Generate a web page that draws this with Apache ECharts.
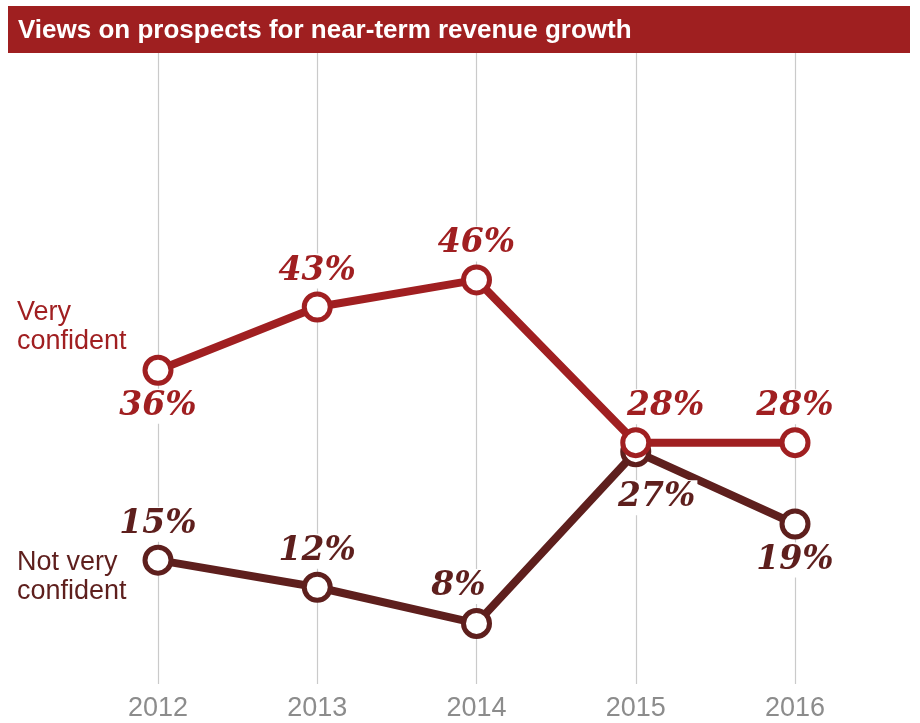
<!DOCTYPE html>
<html>
<head>
<meta charset="utf-8">
<script src="https://cdn.jsdelivr.net/npm/echarts@6/dist/echarts.min.js"></script>
<style>
  html, body { margin: 0; padding: 0; background: #fff; }
  #chart { width: 920px; height: 723px; }
</style>
</head>
<body>
<div id="chart"></div>
<script>
// Survey years and the share of respondents in each group
const years = ['2012', '2013', '2014', '2015', '2016'];
const veryConfident = [36, 43, 46, 28, 28];
const notVeryConfident = [15, 12, 8, 27, 19];

// Where each value label sits relative to its point
const veryLabelPos = ['bottom', 'top', 'top', 'top', 'top'];
const veryLabelOffset = [[0, 0], [0, 0], [0, 0], [30, 0], [0, 0]];
const notLabelPos = ['top', 'top', 'top', 'bottom', 'bottom'];
const notLabelOffset = [[0, 0], [0, 0], [-18, -1], [21, 10], [0, 0]];

const RED = '#a01f21';
const DARK = '#5e1f1d';

function buildData(values, positions, offsets) {
  return values.map((v, i) => ({
    value: v,
    label: {
      position: positions[i],
      offset: offsets[i]
    }
  }));
}

function lineSeries(name, values, positions, offsets, color, z) {
  return {
    name: name,
    type: 'line',
    z: z,
    data: buildData(values, positions, offsets),
    symbol: 'circle',
    symbolSize: 26,
    showAllSymbol: true,
    lineStyle: { color: color, width: 8 },
    itemStyle: { color: '#fff', borderColor: color, borderWidth: 5 },
    label: {
      show: true,
      distance: 3,
      formatter: '{c}%',
      color: color,
      fontFamily: 'DejaVu Serif',
      fontStyle: 'italic',
      fontWeight: 'bold',
      fontSize: 33,
      lineHeight: 33,
      backgroundColor: '#fff',
      padding: [1, 2]
    },
    emphasis: { disabled: true },
    animation: false
  };
}

const chart = echarts.init(document.getElementById('chart'), null, { renderer: 'canvas' });

chart.setOption({
  backgroundColor: '#fff',
  animation: false,
  grid: { left: 158, right: 125, top: 53, bottom: 39 },
  xAxis: {
    type: 'category',
    data: years,
    boundaryGap: false,
    axisLine: { show: false },
    axisTick: { show: false },
    axisLabel: {
      color: '#8c8c8c',
      fontFamily: 'Liberation Sans',
      fontSize: 27,
      margin: 11
    },
    splitLine: { show: true, lineStyle: { color: '#cacaca', width: 1.2 } }
  },
  yAxis: {
    type: 'value',
    min: 1.3,
    max: 71.1,
    show: false,
    splitLine: { show: false }
  },
  graphic: [
    {
      type: 'rect',
      shape: { x: 8, y: 6, width: 902, height: 47 },
      style: { fill: '#9f1f20' },
      z: 0
    },
    {
      type: 'text',
      x: 18,
      y: 31,
      style: {
        text: 'Views on prospects for near-term revenue growth',
        fill: '#fff',
        font: 'bold 26px "Liberation Sans", Arial, sans-serif',
        verticalAlign: 'middle'
      },
      z: 1
    },
    {
      type: 'text',
      x: 17,
      y: 298,
      style: {
        text: 'Very\nconfident',
        fill: RED,
        font: '27px "Liberation Sans", Arial, sans-serif',
        lineHeight: 29,
        verticalAlign: 'top'
      }
    },
    {
      type: 'text',
      x: 17,
      y: 548,
      style: {
        text: 'Not very\nconfident',
        fill: DARK,
        font: '27px "Liberation Sans", Arial, sans-serif',
        lineHeight: 29,
        verticalAlign: 'top'
      }
    }
  ],
  series: [
    lineSeries('Not very confident', notVeryConfident, notLabelPos, notLabelOffset, DARK, 2),
    lineSeries('Very confident', veryConfident, veryLabelPos, veryLabelOffset, RED, 3)
  ]
});
</script>
</body>
</html>
